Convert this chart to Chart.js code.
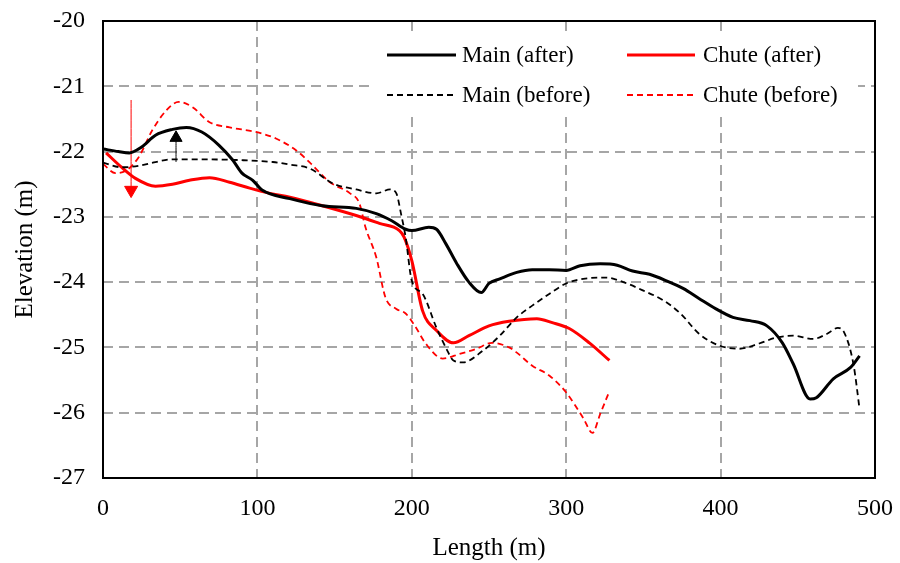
<!DOCTYPE html>
<html>
<head>
<meta charset="utf-8">
<script src="https://cdn.jsdelivr.net/npm/chart.js@4.4.1/dist/chart.umd.min.js"></script>
<style>
  html, body { margin: 0; padding: 0; background: #fff; }
  #wrap { width: 900px; height: 563px; }
</style>
</head>
<body>
<div id="wrap"><canvas id="c" width="900" height="563"></canvas></div>
<script>
// Longitudinal bed profiles, before / after, main channel and chute
var mainAfterX = [0, 10, 17, 25, 34, 45, 54, 64, 75, 84, 90, 97, 103, 121, 142, 164, 177, 187, 196, 200, 211, 216, 222, 229, 237, 245, 250, 257, 268, 278, 289, 300, 309, 322, 333, 343, 354, 365, 376, 386, 397, 408, 419, 430, 440, 447, 458, 462, 473, 484, 490];
var mainAfterY = [-21.96, -22.0, -22.02, -21.93, -21.75, -21.66, -21.63, -21.70, -21.90, -22.13, -22.33, -22.44, -22.59, -22.72, -22.83, -22.87, -22.95, -23.06, -23.19, -23.21, -23.16, -23.19, -23.41, -23.71, -24.0, -24.16, -24.02, -23.95, -23.85, -23.81, -23.81, -23.82, -23.75, -23.72, -23.74, -23.83, -23.88, -23.98, -24.10, -24.25, -24.41, -24.54, -24.59, -24.67, -24.93, -25.25, -25.79, -25.77, -25.48, -25.31, -25.13];

var mainBeforeX = [0, 12, 23, 34, 45, 67, 88, 110, 121, 134, 149, 164, 177, 186, 190, 193, 196, 200, 207, 216, 222, 227, 233, 246, 257, 268, 278, 289, 300, 311, 326, 337, 350, 363, 374, 386, 399, 412, 425, 436, 447, 460, 469, 476, 480, 486, 490];
var mainBeforeY = [-22.17, -22.24, -22.22, -22.16, -22.12, -22.12, -22.13, -22.16, -22.2, -22.26, -22.49, -22.58, -22.64, -22.58, -22.64, -22.95, -23.31, -23.98, -24.18, -24.70, -25.0, -25.2, -25.23, -25.05, -24.82, -24.54, -24.36, -24.18, -24.02, -23.95, -23.93, -24.0, -24.13, -24.28, -24.48, -24.79, -24.97, -25.02, -24.94, -24.85, -24.82, -24.87, -24.79, -24.70, -24.77, -25.25, -25.94];

var chuteAfterX = [2, 12, 21, 34, 45, 56, 69, 82, 95, 108, 121, 142, 164, 179, 192, 195, 200, 207, 216, 227, 237, 250, 263, 281, 291, 302, 315, 328];
var chuteAfterY = [-22.02, -22.24, -22.41, -22.53, -22.50, -22.44, -22.40, -22.47, -22.56, -22.64, -22.70, -22.83, -22.98, -23.10, -23.21, -23.31, -23.67, -24.44, -24.74, -24.93, -24.82, -24.67, -24.6, -24.56, -24.62, -24.71, -24.93, -25.20];

var chuteBeforeX = [0, 8, 15, 23, 32, 41, 49, 58, 69, 82, 99, 112, 125, 134, 147, 160, 166, 170, 177, 183, 190, 196, 202, 209, 220, 231, 242, 252, 263, 268, 278, 289, 300, 311, 317, 322, 328];
var chuteBeforeY = [-22.19, -22.33, -22.29, -22.09, -21.67, -21.37, -21.24, -21.32, -21.55, -21.63, -21.70, -21.80, -21.98, -22.17, -22.47, -22.64, -22.79, -23.16, -23.62, -24.24, -24.41, -24.48, -24.67, -24.94, -25.17, -25.10, -25.02, -24.93, -25.0, -25.08, -25.28, -25.43, -25.69, -26.08, -26.31, -26.02, -25.67];

// annotation arrows: [x, yStart, yHead]
var redArrow = [18.2, -21.21, -22.59];
var blackArrow = [47.3, -22.16, -21.79];

var xTicks = [0, 100, 200, 300, 400, 500];
var yTicks = [-27, -26, -25, -24, -23, -22, -21, -20];

var FONT = '"Liberation Serif", "Times New Roman", serif';

function pts(xs, ys) {
  return xs.map(function (x, i) { return { x: x, y: ys[i] }; });
}

function arrow(a, color, r, rot) {
  return {
    label: '', data: [{ x: a[0], y: a[1] }, { x: a[0], y: a[2] }],
    borderColor: color, backgroundColor: color, borderWidth: 1,
    pointRadius: [0, r], pointStyle: 'triangle', rotation: rot,
    pointBorderWidth: 1, tension: 0, isArrow: true
  };
}

// legend inside the plot, drawn over a white box
var legendPlugin = {
  id: 'innerLegend',
  afterDraw: function (chart) {
    var ctx = chart.ctx;
    var ds = chart.data.datasets.filter(function (d) { return !d.isArrow; });
    ctx.save();
    ctx.fillStyle = '#fff';
    ctx.fillRect(375, 33, 483, 81);
    var cols = [[387, 456, 462], [627, 695, 703]];
    var rows = [55, 95];
    // order: Main (after), Chute (after) / Main (before), Chute (before)
    var order = [[0, 2], [1, 3]];
    ctx.font = '23px ' + FONT;
    ctx.textBaseline = 'middle';
    for (var r = 0; r < 2; r++) {
      for (var c = 0; c < 2; c++) {
        var d = ds[order[r][c]];
        ctx.beginPath();
        ctx.strokeStyle = d.borderColor;
        ctx.lineWidth = d.borderWidth;
        ctx.setLineDash(d.borderDash || []);
        ctx.moveTo(cols[c][0], rows[r]);
        ctx.lineTo(cols[c][1], rows[r]);
        ctx.stroke();
        ctx.setLineDash([]);
        ctx.fillStyle = '#000';
        ctx.fillText(d.label, cols[c][2], rows[r] + 1);
      }
    }
    // plot frame
    var a = chart.chartArea;
    ctx.strokeStyle = '#000';
    ctx.lineWidth = 2;
    ctx.strokeRect(a.left, a.top, a.right - a.left, a.bottom - a.top);
    ctx.restore();
  }
};

function gridColor(min, max) {
  return function (c) {
    if (!c.tick) return 'rgba(0,0,0,0)';
    return (c.tick.value === min || c.tick.value === max) ? 'rgba(0,0,0,0)' : '#a6a6a6';
  };
}

new Chart(document.getElementById('c'), {
  type: 'line',
  data: {
    datasets: [
      { label: 'Main (after)', data: pts(mainAfterX, mainAfterY), borderColor: '#000', borderWidth: 3 },
      { label: 'Main (before)', data: pts(mainBeforeX, mainBeforeY), borderColor: '#000', borderWidth: 1.8, borderDash: [6, 4] },
      { label: 'Chute (after)', data: pts(chuteAfterX, chuteAfterY), borderColor: '#ff0000', borderWidth: 3 },
      { label: 'Chute (before)', data: pts(chuteBeforeX, chuteBeforeY), borderColor: '#ff0000', borderWidth: 1.8, borderDash: [6, 4] },
      arrow(redArrow, '#ff0000', 7.5, 180),
      arrow(blackArrow, '#000', 7, 0)
    ]
  },
  options: {
    responsive: false,
    animation: false,
    devicePixelRatio: 1,
    layout: { padding: { left: 0, right: 25, top: 21, bottom: 0 } },
    elements: {
      line: { cubicInterpolationMode: 'monotone', fill: false },
      point: { radius: 0, hoverRadius: 0 }
    },
    plugins: { legend: { display: false }, tooltip: { enabled: false } },
    scales: {
      x: {
        type: 'linear', min: 0, max: 500,
        afterBuildTicks: function (s) { s.ticks = xTicks.map(function (v) { return { value: v }; }); },
        afterFit: function (s) { s.height = 85; s.paddingLeft = 0; s.paddingRight = 0; },
        grid: { color: gridColor(0, 500), lineWidth: 2, drawTicks: false },
        border: { display: false, dash: [10, 6] },
        ticks: { font: { family: FONT, size: 24 }, color: '#000', padding: 16, maxRotation: 0 },
        title: { display: true, text: 'Length (m)', font: { family: FONT, size: 25 }, color: '#000', padding: { top: 4, bottom: 0 } }
      },
      y: {
        type: 'linear', min: -27, max: -20,
        afterBuildTicks: function (s) { s.ticks = yTicks.map(function (v) { return { value: v }; }); },
        afterFit: function (s) { s.width = 103; s.paddingTop = 0; s.paddingBottom = 0; },
        grid: { color: gridColor(-27, -20), lineWidth: 2, drawTicks: false },
        border: { display: false, dash: [10, 6] },
        ticks: { font: { family: FONT, size: 24 }, color: '#000', padding: 18 },
        title: { display: true, text: 'Elevation (m)', font: { family: FONT, size: 25 }, color: '#000', padding: { top: 10, bottom: 0 } }
      }
    }
  },
  plugins: [legendPlugin]
});
</script>
</body>
</html>
